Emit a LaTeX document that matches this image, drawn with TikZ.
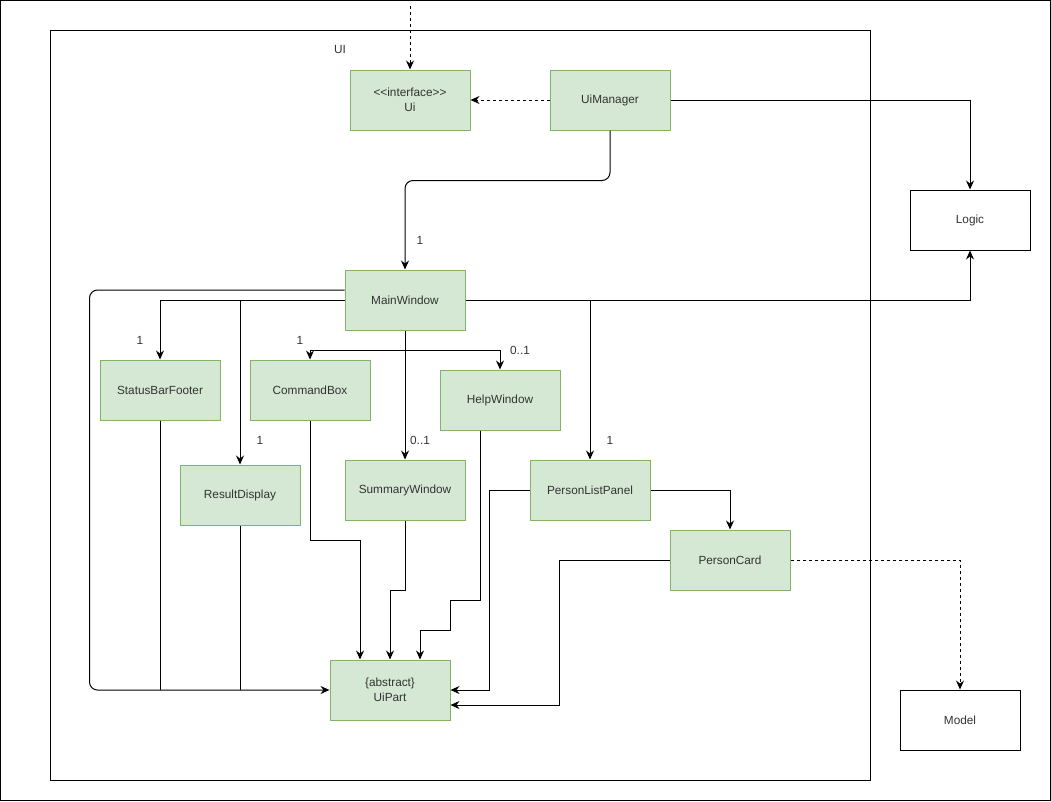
\documentclass[tikz,border=0pt]{standalone}
\usepackage{fontspec}
\setmainfont{Liberation Sans}
\usetikzlibrary{arrows.meta,positioning}
\definecolor{uifill}{HTML}{D5E8D4}
\definecolor{uiline}{HTML}{82B366}
\definecolor{txtgray}{HTML}{333333}

\begin{document}
\begin{tikzpicture}[x=1pt, y=-1pt, every node/.style={font=\fontsize{11.8}{15}\selectfont, text=txtgray},
  >={Stealth[length=9pt,width=8pt,inset=3pt]}]
\tikzset{cls/.style={draw=uiline, fill=uifill, line width=1pt, minimum width=120pt, minimum height=60pt, align=center, inner sep=0pt}}
\tikzset{ext/.style={draw=black, fill=white, line width=1pt, minimum width=120pt, minimum height=60pt, inner sep=0pt}}
\tikzset{lnk/.style={line width=1pt, ->}}
\tikzset{dep/.style={line width=1pt, ->, dash pattern=on 3pt off 3pt}}
\tikzset{plain/.style={line width=1pt}}
\tikzset{mult/.style={inner sep=0pt}}
\useasboundingbox (0,0) rectangle (1051,801);

% frames
\draw[line width=1pt] (0.5,0.5) rectangle (1050.5,800.5);
\draw[line width=1pt] (50,30) rectangle (870,780);
\node[mult] (uilbl) at (340,49) {UI};

% classes
\node[cls] (ui) at (410,100) {\mbox{<}\mbox{<}interface\mbox{>}\mbox{>}\\Ui};
\node[cls] (uimgr) at (610,100) {UiManager};
\node[cls] (mainwin) at (405,300) {MainWindow};
\node[cls] (statusbar) at (160,390) {StatusBarFooter};
\node[cls] (cmdbox) at (310,390) {CommandBox};
\node[cls] (helpwin) at (500,400) {HelpWindow};
\node[cls] (resultdisp) at (240,495) {ResultDisplay};
\node[cls] (summarywin) at (405,490) {SummaryWindow};
\node[cls] (plistpanel) at (590,490) {PersonListPanel};
\node[cls] (pcard) at (730,560) {PersonCard};
\node[cls] (uipart) at (390,690) {\{abstract\}\\UiPart};
\node[ext] (logic) at (970,220) {Logic};
\node[ext] (model) at (960,720) {Model};

% joints
\coordinate (entry) at (410,6);
\coordinate (j1) at (resultdisp.north |- mainwin.west);
\coordinate (j2) at ([yshift=-20pt]mainwin.south);
\coordinate (j3) at (plistpanel.north |- mainwin.east);

% top part
\draw[dep] (entry) -- (ui.north);
\draw[dep] (uimgr) -- (ui);
\draw[lnk] (uimgr.east) -| (logic.north);
\draw[lnk, rounded corners=8pt] (uimgr.south) -- ++(0,50) -| (mainwin.north);
\node[mult] (m1) at (420,240) {1};

% MainWindow associations
\draw[lnk] (mainwin.east) -| (logic.south);
\draw[lnk] (mainwin.west) -| (statusbar.north);
\draw[lnk] (j1) -- (resultdisp.north);
\draw[lnk] (mainwin.south) -- (summarywin.north);
\draw[lnk] (j2) -| (cmdbox.north);
\draw[lnk] (j2) -| (helpwin.north);
\draw[lnk] (j3) -- (plistpanel.north);
\draw[lnk] (plistpanel.east) -| (pcard.north);
\node[mult] (m2) at (140,340) {1};
\node[mult] (m3) at (300,340) {1};
\node[mult] (m4) at (520,350) {0..1};
\node[mult] (m5) at (260,440) {1};
\node[mult] (m6) at (420,440) {0..1};
\node[mult] (m7) at (610,440) {1};

% inheritance to UiPart
\draw[lnk, rounded corners=8pt] ([yshift=10pt]mainwin.west) -- ++(-255,0) |- (uipart.west);
\draw[plain] (statusbar.south) -- (statusbar.south |- uipart.west);
\draw[plain] (resultdisp.south) -- (resultdisp.south |- uipart.west);
\draw[lnk] (cmdbox.south) -- ++(0,120) -| ([xshift=-30pt]uipart.north);
\draw[lnk] (summarywin.south) -- ++(0,70) -| (uipart.north);
\draw[lnk] ([xshift=-20pt]helpwin.south) -- ++(0,170) -- ++(-30,0) -- ++(0,30) -| ([xshift=30pt]uipart.north);
\draw[lnk] (plistpanel.west) -- ++(-40,0) |- (uipart.east);
\draw[lnk] (pcard.west) -- ++(-110,0) |- ([yshift=-15pt]uipart.east);

% model
\draw[dep] (pcard.east) -| (model.north);
\end{tikzpicture}
\end{document}
